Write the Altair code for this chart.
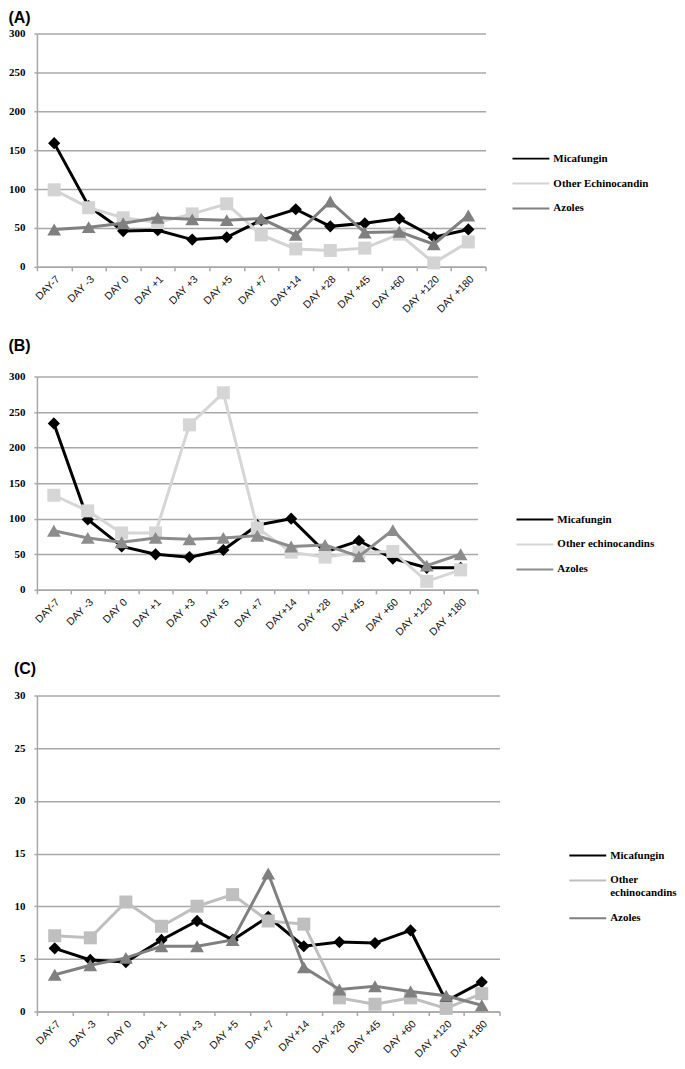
import altair as alt
import pandas as pd

days = ["DAY-7", "DAY -3", "DAY 0", "DAY +1", "DAY +3", "DAY +5", "DAY +7",
        "DAY+14", "DAY +28", "DAY +45", "DAY +60", "DAY +120", "DAY +180"]

a_names = ["Micafungin", "Other Echinocandin", "Azoles"]
a_mica = [159, 78, 46, 47, 35, 38, 60, 74, 52, 56, 62, 38, 48]
a_other = [99, 76, 63, 57, 68, 81, 41, 23, 21, 24, 42, 5, 32]
a_azoles = [48, 51, 56, 63, 61, 60, 62, 41, 84, 44, 45, 29, 66]

b_names = ["Micafungin", "Other echinocandins", "Azoles"]
b_mica = [234, 99, 61, 50, 46, 56, 91, 100, 53, 69, 44, 31, 31]
b_other = [133, 111, 80, 80, 232, 277, 87, 53, 46, 53, 54, 12, 28]
b_azoles = [83, 73, 67, 73, 71, 73, 76, 61, 63, 47, 84, 34, 50]

c_names = ["Micafungin", "Other echinocandins", "Azoles"]
c_mica = [6.0, 4.9, 4.7, 6.8, 8.6, 6.8, 9.0, 6.2, 6.6, 6.5, 7.7, 1.0, 2.8]
c_other = [7.2, 7.0, 10.4, 8.1, 10.0, 11.1, 8.6, 8.3, 1.3, 0.7, 1.3, 0.3, 1.7]
c_azoles = [3.5, 4.4, 5.1, 6.2, 6.2, 6.8, 13.1, 4.2, 2.1, 2.4, 1.9, 1.5, 0.6]

shapes = ["diamond", "square", "triangle-up"]
sizes = [150, 170, 190]
GRID = "#a8a8a8"


def panel(label, names, series, ymax, ystep, width, height, colors,
          legend_x, legend_y, title_offset, row_pad, label_expr=None):
    rows = []
    for name, vals in zip(names, series):
        for d, v in zip(days, vals):
            rows.append({"day": d, "value": v, "series": name})
    df = pd.DataFrame(rows)

    color_scale = alt.Scale(domain=names, range=colors)
    legend_kw = dict(
        orient="none", legendX=legend_x, legendY=legend_y, title=None,
        symbolType="stroke", symbolSize=1369, symbolStrokeWidth=2,
        labelFont="Liberation Sans Narrow", labelFontWeight="bold",
        labelFontSize=11, labelColor="#000", labelOffset=3,
        rowPadding=row_pad,
    )
    if label_expr:
        legend_kw["labelExpr"] = label_expr
    legend = alt.Legend(**legend_kw)

    x = alt.X("day:N", sort=days, title=None,
              scale=alt.Scale(type="band", paddingInner=0, paddingOuter=0),
              axis=alt.Axis(labelAngle=-45, labelFont="Liberation Sans",
                            labelFontSize=10.5, labelColor="#111",
                            domainColor=GRID, domainWidth=1.5,
                            tickColor=GRID, tickWidth=1.5, tickSize=4,
                            tickBand="extent", labelPadding=3, grid=False))
    y = alt.Y("value:Q", title=None,
              scale=alt.Scale(domain=[0, ymax], nice=False),
              axis=alt.Axis(values=list(range(0, ymax + 1, ystep)),
                            labelFont="Liberation Sans Narrow",
                            labelFontWeight="bold", labelFontSize=11,
                            labelColor="#000", labelPadding=9,
                            domainColor=GRID, domainWidth=1.5,
                            tickColor=GRID, tickWidth=1.5, tickSize=3,
                            grid=True, gridColor=GRID, gridWidth=1.5))
    color = alt.Color("series:N", scale=color_scale, legend=legend)

    layers = []
    for i, name in enumerate(names):
        base = alt.Chart(df).transform_filter(alt.datum.series == name)
        line = base.mark_line(strokeWidth=3).encode(x=x, y=y, color=color)
        pts = base.mark_point(filled=True, opacity=1, shape=shapes[i],
                              size=sizes[i], fill=colors[i],
                              strokeWidth=0).encode(x=x, y=y)
        layers += [line, pts]
    return alt.layer(*layers).properties(
        width=width, height=height,
        title=alt.TitleParams(label, anchor="start", frame="bounds",
                              font="Liberation Sans", fontSize=16,
                              fontWeight="bold", color="#000",
                              offset=title_offset))


pa = panel("(A)", a_names, [a_mica, a_other, a_azoles], 300, 50, 450, 234,
           ["#000000", "#d3d3d3", "#808080"], 476, 106, 2, -16)
pb = panel("(B)", b_names, [b_mica, b_other, b_azoles], 300, 50, 442, 214,
           ["#000000", "#d6d6d6", "#8c8c8c"], 480, 124, 17, -13)
pc = panel("(C)", c_names, [c_mica, c_other, c_azoles], 30, 5, 464, 317,
           ["#000000", "#bfbfbf", "#808080"], 533, 141, 13, -12,
           label_expr="datum.label == 'Other echinocandins' ? ['Other', 'echinocandins'] : datum.label")

chart = alt.vconcat(pa, pb, pc, spacing=23).resolve_scale(
    color="independent"
).properties(padding={"left": 0, "top": 0, "right": 0, "bottom": 0}
).configure_view(stroke=None)

chart.save("out.html", embed_options={"renderer": "svg", "actions": False})
